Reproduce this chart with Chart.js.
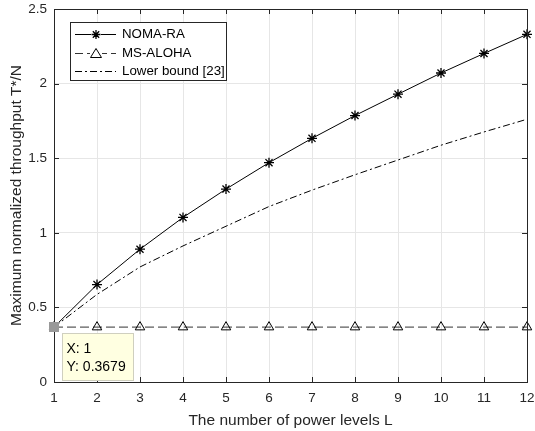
<!DOCTYPE html>
<html lang="en">
<head>
    <meta charset="UTF-8">
    <title>Maximum normalized throughput vs power levels</title>
    <script src="https://cdn.jsdelivr.net/npm/chart.js"></script>
    <style>
        body {
            margin: 0;
            background: #fff;
        }
        .chart-box {
            width: 535px;
            height: 431px;
        }
    </style>
</head>
<body>
    <div class="chart-box">
        <canvas id="throughputChart"></canvas>
    </div>
    <script>
        // values
        const powerLevels = [1, 2, 3, 4, 5, 6, 7, 8, 9, 10, 11, 12];
        const nomaRa = [0.3679, 0.653, 0.890, 1.103, 1.293, 1.470, 1.633, 1.786, 1.929, 2.071, 2.202, 2.330];
        const msAloha = [0.3679, 0.3679, 0.3679, 0.3679, 0.3679, 0.3679, 0.3679, 0.3679, 0.3679, 0.3679, 0.3679, 0.3679];
        const lowerBound = [0.3679, 0.587, 0.771, 0.912, 1.044, 1.176, 1.286, 1.389, 1.488, 1.587, 1.676, 1.761];
        const yTicks = [0, 0.5, 1, 1.5, 2, 2.5];
        const seriesNames = ['NOMA-RA', 'MS-ALOHA', 'Lower bound [23]'];

        const FONT = '"Liberation Sans", Arial, Helvetica, sans-serif';
        const INK = '#262626';

        const toPoints = (arr) => arr.map((v, i) => ({ x: powerLevels[i], y: v }));

        // MATLAB-like box, inward ticks, legend and data tip
        const matlabDecor = {
            id: 'matlabDecor',
            afterDraw(chart) {
                const ctx = chart.ctx;
                const a = chart.chartArea;
                const xs = chart.scales.x;
                const ys = chart.scales.y;
                ctx.save();

                // inward tick marks
                ctx.strokeStyle = INK;
                ctx.lineWidth = 1;
                ctx.beginPath();
                powerLevels.forEach(v => {
                    const px = Math.round(xs.getPixelForValue(v)) + 0.5;
                    ctx.moveTo(px, a.bottom); ctx.lineTo(px, a.bottom - 5);
                    ctx.moveTo(px, a.top); ctx.lineTo(px, a.top + 5);
                });
                yTicks.forEach(v => {
                    const py = Math.round(ys.getPixelForValue(v)) + 0.5;
                    ctx.moveTo(a.left, py); ctx.lineTo(a.left + 5, py);
                    ctx.moveTo(a.right, py); ctx.lineTo(a.right - 5, py);
                });
                ctx.stroke();
                ctx.strokeRect(Math.round(a.left) + 0.5, Math.round(a.top) + 0.5,
                    Math.round(a.right - a.left), Math.round(a.bottom - a.top));

                // legend
                const lx = a.left + 16, ly = a.top + 13, lw = 156, lh = 58;
                ctx.fillStyle = '#fff';
                ctx.fillRect(lx, ly, lw, lh);
                ctx.strokeStyle = INK;
                ctx.strokeRect(Math.round(lx) + 0.5, Math.round(ly) + 0.5, lw, lh);
                const dashes = [[], [8, 4], [7, 3, 2, 3]];
                ctx.font = '13.3px ' + FONT;
                ctx.textBaseline = 'middle';
                seriesNames.forEach((name, i) => {
                    const yy = Math.round(ly + 12 + i * 18.5) + 0.5;
                    ctx.strokeStyle = i === 1 ? '#333' : '#000';
                    ctx.setLineDash(dashes[i]);
                    ctx.beginPath();
                    ctx.moveTo(lx + 5, yy); ctx.lineTo(lx + 46, yy);
                    ctx.stroke();
                    ctx.setLineDash([]);
                    ctx.strokeStyle = '#000';
                    const mx = lx + 26;
                    if (i === 0) {
                        ctx.fillStyle = '#fff';
                        ctx.fillRect(mx - 5, yy - 5, 10, 10);
                        ctx.beginPath();
                        const r = 4.5, d = r * 0.707;
                        ctx.moveTo(mx - r, yy); ctx.lineTo(mx + r, yy);
                        ctx.moveTo(mx, yy - r); ctx.lineTo(mx, yy + r);
                        ctx.moveTo(mx - d, yy - d); ctx.lineTo(mx + d, yy + d);
                        ctx.moveTo(mx - d, yy + d); ctx.lineTo(mx + d, yy - d);
                        ctx.lineWidth = 1.3;
                        ctx.stroke();
                        ctx.lineWidth = 1;
                    } else if (i === 1) {
                        ctx.fillStyle = '#fff';
                        ctx.fillRect(mx - 6, yy - 6, 12, 12);
                        ctx.beginPath();
                        ctx.moveTo(mx, yy - 5);
                        ctx.lineTo(mx + 5.5, yy + 4);
                        ctx.lineTo(mx - 5.5, yy + 4);
                        ctx.closePath();
                        ctx.stroke();
                    }
                    ctx.fillStyle = '#000';
                    ctx.fillText(name, lx + 52, yy);
                });

                // data tip at the first MS-ALOHA point
                const tx = xs.getPixelForValue(powerLevels[0]);
                const ty = ys.getPixelForValue(msAloha[0]);
                ctx.fillStyle = '#999';
                ctx.fillRect(Math.round(tx) - 5, Math.round(ty) - 5, 10, 10);
                const bx = Math.round(tx) + 8.5, by = Math.round(ty) + 6.5;
                ctx.fillStyle = '#ffffe1';
                ctx.fillRect(bx, by, 71, 47);
                ctx.strokeStyle = '#cfcfbf';
                ctx.strokeRect(bx, by, 71, 47);
                ctx.fillStyle = '#000';
                ctx.font = '14px ' + FONT;
                ctx.fillText('X: ' + powerLevels[0], bx + 4, by + 16);
                ctx.fillText('Y: ' + msAloha[0].toFixed(4), bx + 4, by + 34);

                ctx.restore();
            }
        };

        const ctx = document.getElementById('throughputChart').getContext('2d');
        new Chart(ctx, {
            type: 'line',
            data: {
                datasets: [
                    {
                        label: seriesNames[0],
                        data: toPoints(nomaRa),
                        borderColor: '#000',
                        borderWidth: 1,
                        pointStyle: 'star',
                        pointRadius: 5,
                        pointBorderColor: '#000',
                        pointBorderWidth: 1.3,
                        pointBackgroundColor: '#000',
                        tension: 0,
                        clip: 10
                    },
                    {
                        label: seriesNames[1],
                        data: toPoints(msAloha),
                        borderColor: '#333',
                        borderWidth: 1,
                        borderDash: [9, 4],
                        pointStyle: 'triangle',
                        pointRadius: 5.5,
                        pointBorderColor: '#000',
                        pointBorderWidth: 1,
                        pointBackgroundColor: 'rgba(255,255,255,0)',
                        tension: 0,
                        clip: 10
                    },
                    {
                        label: seriesNames[2],
                        data: toPoints(lowerBound),
                        borderColor: '#000',
                        borderWidth: 1,
                        borderDash: [7, 3, 2, 3],
                        pointRadius: 0,
                        tension: 0,
                        clip: 10
                    }
                ]
            },
            options: {
                responsive: true,
                maintainAspectRatio: false,
                animation: false,
                layout: {
                    padding: { top: 9, right: 8, left: 0, bottom: 0 }
                },
                plugins: {
                    legend: { display: false },
                    tooltip: { enabled: false }
                },
                scales: {
                    x: {
                        type: 'linear',
                        min: 1,
                        max: 12,
                        afterFit: (scale) => {
                            scale.height = 49;
                            scale.paddingLeft = 0;
                            scale.paddingRight = 0;
                        },
                        ticks: {
                            stepSize: 1,
                            padding: 8,
                            color: INK,
                            font: { family: FONT, size: 13.5 },
                            maxRotation: 0
                        },
                        grid: { color: '#e6e6e6', drawTicks: false },
                        border: { color: INK },
                        title: {
                            display: true,
                            text: 'The number of power levels L',
                            color: INK,
                            font: { family: FONT, size: 15.5 },
                            padding: { top: 1, bottom: 1 }
                        }
                    },
                    y: {
                        min: 0,
                        max: 2.5,
                        afterFit: (scale) => {
                            scale.width = 54;
                            scale.paddingTop = 0;
                            scale.paddingBottom = 0;
                        },
                        afterBuildTicks: (scale) => {
                            scale.ticks = yTicks.map(v => ({ value: v }));
                        },
                        ticks: {
                            padding: 7,
                            color: INK,
                            font: { family: FONT, size: 13.5 },
                            callback: (v) => String(v)
                        },
                        grid: { color: '#e6e6e6', drawTicks: false },
                        border: { color: INK },
                        title: {
                            display: true,
                            text: 'Maximum normalized throughput T*/N',
                            color: INK,
                            font: { family: FONT, size: 15.5 },
                            padding: { top: 7, bottom: 3 }
                        }
                    }
                }
            },
            plugins: [matlabDecor]
        });
    </script>
</body>
</html>
